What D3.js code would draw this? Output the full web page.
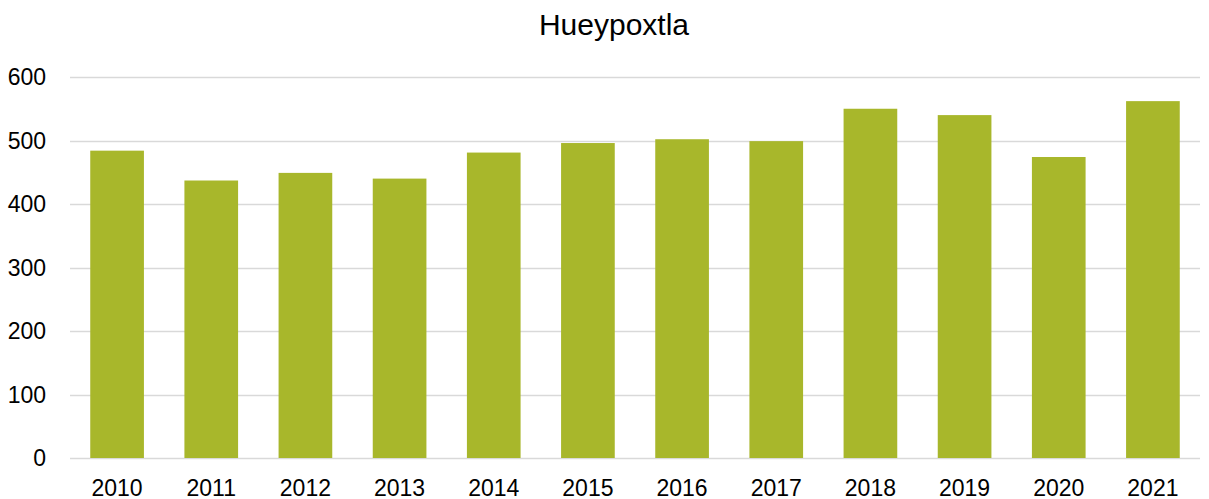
<!DOCTYPE html>
<html>
<head>
<meta charset="utf-8">
<script src="https://cdn.jsdelivr.net/npm/d3@7"></script>
<style>
  body { margin: 0; background: #fff; }
  svg text { font-family: 'Liberation Sans', Arial, sans-serif; fill: #000; }
</style>
</head>
<body>
<div id="chart"></div>
<script>
'use strict';

var chartTitle = 'Hueypoxtla';
var years = ['2010', '2011', '2012', '2013', '2014', '2015', '2016', '2017', '2018', '2019', '2020', '2021'];
var values = [484, 437, 449, 440, 481, 496, 502, 499, 550, 540, 474, 562];
var yTicks = [0, 100, 200, 300, 400, 500, 600];

var width = 1209, height = 499;
var margin = {top: 77, right: 9, bottom: 41, left: 70};

var svg = d3.select('#chart').append('svg')
  .attr('width', width)
  .attr('height', height);

var x = d3.scaleBand()
  .domain(years)
  .range([margin.left, width - margin.right])
  .paddingInner(0.43)
  .paddingOuter(0.215);

var y = d3.scaleLinear()
  .domain([0, 600])
  .range([height - margin.bottom, margin.top]);

// gridlines
svg.append('g')
  .selectAll('line')
  .data(yTicks)
  .enter()
  .append('line')
  .attr('x1', margin.left)
  .attr('x2', width - margin.right)
  .attr('y1', function(d) { return Math.round(y(d)) + 0.5 })
  .attr('y2', function(d) { return Math.round(y(d)) + 0.5 })
  .attr('stroke', '#d9d9d9')
  .attr('stroke-width', 1.5);

// bars
svg.append('g')
  .selectAll('rect')
  .data(values)
  .enter()
  .append('rect')
  .attr('x', function(d, i) { return x(years[i]) })
  .attr('width', x.bandwidth())
  .attr('y', function(d) { return y(d) })
  .attr('height', function(d) { return y(0) - y(d) })
  .attr('fill', '#a8b72b');

// y axis labels
svg.append('g')
  .selectAll('text')
  .data(yTicks)
  .enter()
  .append('text')
  .attr('x', 46)
  .attr('y', function(d) { return y(d) })
  .attr('dy', '0.35em')
  .attr('text-anchor', 'end')
  .style('font-size', '23px')
  .text(function(d) { return d });

// x axis labels
svg.append('g')
  .selectAll('text')
  .data(years)
  .enter()
  .append('text')
  .attr('x', function(d) { return x(d) + x.bandwidth() / 2 })
  .attr('y', 496)
  .attr('text-anchor', 'middle')
  .style('font-size', '23px')
  .text(function(d) { return d });

svg.append('text')
  .attr('x', 614)
  .attr('y', 35)
  .attr('text-anchor', 'middle')
  .style('font-size', '30px')
  .text(chartTitle);
</script>
</body>
</html>
